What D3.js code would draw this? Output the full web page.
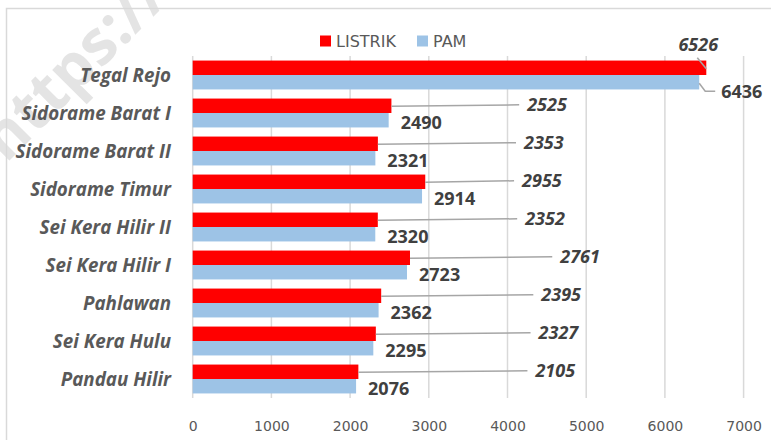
<!DOCTYPE html>
<html lang="id">
<head>
<meta charset="UTF-8">
<title>LISTRIK vs PAM</title>
<script src="https://d3js.org/d3.v7.min.js"></script>
<style>
  body { margin: 0; background: #fff; }
</style>
</head>
<body>
<div id="chart"></div>
<script>
// data
const categories = ["Tegal Rejo", "Sidorame Barat I", "Sidorame Barat II", "Sidorame Timur",
                    "Sei Kera Hilir II", "Sei Kera Hilir I", "Pahlawan ", "Sei Kera Hulu", "Pandau Hilir"];
const listrik = [6526, 2525, 2353, 2955, 2352, 2761, 2395, 2327, 2105];
const pam     = [6436, 2490, 2321, 2914, 2320, 2723, 2362, 2295, 2076];
const seriesNames = ["LISTRIK", "PAM"];
const xTicks = [0, 1000, 2000, 3000, 4000, 5000, 6000, 7000];

// where the LISTRIK labels were dragged to (axis units), Tegal Rejo handled apart
const listrikLabelAt = [null, 4250, 4210, 4185, 4225, 4670, 4430, 4395, 4355];

const width = 771, height = 440;
const colors = { LISTRIK: "#ff0000", PAM: "#9dc3e6" };

const svg = d3.select("#chart").append("svg")
    .attr("width", width)
    .attr("height", height)
    .style("font-family", "'Open Sans', sans-serif");

// watermark
svg.append("text")
    .attr("transform", "translate(6,164) rotate(-45)")
    .attr("font-size", 62)
    .attr("font-weight", "bold")
    .attr("fill", "#e4e4e4")
    .text("https://");

// chart frame
svg.append("rect")
    .attr("x", 6.5).attr("y", 8.5)
    .attr("width", 780).attr("height", 450)
    .attr("fill", "none")
    .attr("stroke", "#d9d9d9")
    .attr("stroke-width", 1.5);

const x = d3.scaleLinear().domain([0, 7000]).range([192.7, 743.6]);
const y = d3.scaleBand().domain(categories).range([56, 398]).paddingInner(0.24).paddingOuter(0.12);
const sub = d3.scaleBand().domain(seriesNames).range([0, y.bandwidth()]);

// gridlines
svg.append("g")
  .selectAll("line")
  .data(xTicks)
  .join("line")
    .attr("x1", d => x(d)).attr("x2", d => x(d))
    .attr("y1", 56).attr("y2", 398)
    .attr("stroke", "#d9d9d9")
    .attr("stroke-width", 1.5);

// x axis labels
const xAxis = d3.axisBottom(x).tickValues(xTicks).tickFormat(d3.format("d")).tickSize(0).tickPadding(0);
svg.append("g")
    .attr("transform", "translate(0,421)")
    .call(xAxis)
    .call(g => g.select(".domain").remove())
    .call(g => g.selectAll("text")
        .attr("font-family", "'DejaVu Sans', sans-serif")
        .attr("font-size", 14)
        .attr("fill", "#595959"));

// category labels
const yAxis = d3.axisLeft(y).tickSize(0).tickPadding(0);
svg.append("g")
    .attr("transform", "translate(171,0)")
    .call(yAxis)
    .call(g => g.select(".domain").remove())
    .call(g => g.selectAll("text")
        .attr("font-family", "'Open Sans', sans-serif")
        .attr("font-size", 18.8)
        .attr("font-weight", "bold")
        .attr("font-style", "italic")
        .attr("fill", "#595959")
        .attr("dy", "0.35em"));

// bars
const rows = categories.map((c, i) => ({ c, i, LISTRIK: listrik[i], PAM: pam[i] }));
const groups = svg.append("g").selectAll("g")
  .data(rows)
  .join("g")
    .attr("transform", d => `translate(0,${y(d.c)})`);

groups.selectAll("rect")
  .data(d => seriesNames.map(s => ({ s, v: d[s] })))
  .join("rect")
    .attr("x", x(0))
    .attr("y", d => sub(d.s))
    .attr("width", d => x(d.v) - x(0))
    .attr("height", sub.bandwidth())
    .attr("fill", d => colors[d.s]);

// labels
const lab = svg.append("g").attr("fill", "#404040").attr("font-size", 18).attr("font-weight", "bold");
const leader = svg.append("g").attr("stroke", "#a6a6a6").attr("stroke-width", 1.5).attr("fill", "none");

rows.forEach((d, i) => {
  const yr = y(d.c) + sub("LISTRIK") + sub.bandwidth() / 2;
  const yb = y(d.c) + sub("PAM") + sub.bandwidth() / 2;
  if (i === 0) {
    // Tegal Rejo: labels above and to the right
    lab.append("text")
        .attr("x", x(d.LISTRIK) - 8).attr("y", yr - 23)
        .attr("text-anchor", "middle").attr("dy", "0.35em")
        .attr("font-style", "italic")
        .text(d.LISTRIK);
    leader.append("path")
        .attr("d", `M${x(d.LISTRIK) - 9},${yr - 10} L${x(d.LISTRIK)},${yr + 1}`);
    lab.append("text")
        .attr("x", x(d.PAM) + 22).attr("y", yb + 9)
        .attr("dy", "0.35em")
        .text(d.PAM);
    leader.append("path")
        .attr("d", `M${x(d.PAM)},${yb + 1} L${x(d.PAM) + 6},${yb + 9} L${x(d.PAM) + 16},${yb + 9}`);
  } else {
    const lx = x(listrikLabelAt[i]);
    leader.append("line")
        .attr("x1", x(d.LISTRIK)).attr("y1", yr + 0.5)
        .attr("x2", lx - 8).attr("y2", yr - 1);
    lab.append("text")
        .attr("x", lx).attr("y", yr - 1)
        .attr("dy", "0.35em")
        .attr("font-style", "italic")
        .text(d.LISTRIK);
    lab.append("text")
        .attr("x", x(d.PAM) + 12).attr("y", yb + 2)
        .attr("dy", "0.35em")
        .text(d.PAM);
  }
});

// legend
const legend = svg.append("g").attr("transform", "translate(320,41)");
const legX = { LISTRIK: 0, PAM: 97 };
seriesNames.forEach(s => {
  const g = legend.append("g").attr("transform", `translate(${legX[s]},0)`);
  g.append("rect").attr("x", 0).attr("y", -5.5).attr("width", 11).attr("height", 11).attr("fill", colors[s]);
  g.append("text")
      .attr("x", 16).attr("y", 0).attr("dy", "0.35em")
      .attr("font-family", "'DejaVu Sans', sans-serif")
      .attr("font-size", 16)
      .attr("fill", "#595959")
      .text(s);
});
</script>
</body>
</html>
